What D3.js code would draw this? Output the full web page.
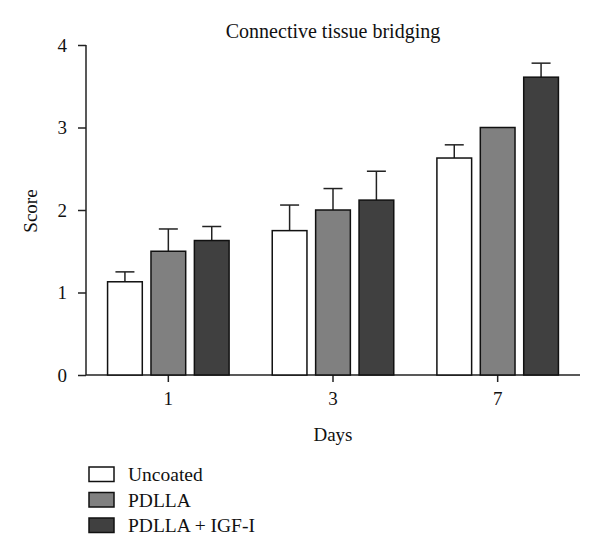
<!DOCTYPE html>
<html>
<head>
<meta charset="utf-8">
<script src="https://cdn.jsdelivr.net/npm/d3@7/dist/d3.min.js"></script>
<style>
  html, body { margin: 0; padding: 0; background: #fff; }
  svg { display: block; }
  text { font-family: "Liberation Serif", "DejaVu Serif", serif; fill: #111; }
</style>
</head>
<body>
<svg id="chart" width="600" height="557"></svg>
<script>
const days = ["1", "3", "7"];
const seriesNames = ["Uncoated", "PDLLA", "PDLLA + IGF-I"];
const uncoated = [1.13, 1.75, 2.63];
const pdlla = [1.50, 2.00, 3.00];
const pdllaIgf = [1.63, 2.12, 3.61];
const uncoatedErr = [0.12, 0.31, 0.16];
const pdllaErr = [0.27, 0.26, 0];
const pdllaIgfErr = [0.17, 0.35, 0.17];
const yTicks = [0, 1, 2, 3, 4];

const values = [uncoated, pdlla, pdllaIgf];
const errs = [uncoatedErr, pdllaErr, pdllaIgfErr];
const colors = ["#ffffff", "#808080", "#404040"];

const svg = d3.select("#chart");
const x0 = d3.scaleBand().domain(days).range([86, 580]).paddingInner(0.262).paddingOuter(0.131);
const x1 = d3.scaleBand().domain(seriesNames).range([0, x0.bandwidth()]).paddingInner(0.2);
const y = d3.scaleLinear().domain([0, 4]).range([375, 45]);

// axes
const yAxis = svg.append("g").attr("transform", "translate(86,0)")
  .call(d3.axisLeft(y).tickValues(yTicks).tickSize(8).tickPadding(11).tickFormat(d3.format("d")));
const xAxis = svg.append("g").attr("transform", "translate(0,375)")
  .call(d3.axisBottom(x0).tickSize(7).tickPadding(10));
[yAxis, xAxis].forEach(a => {
  a.select(".domain").attr("stroke", "#222").attr("stroke-width", 1.5);
  a.selectAll(".tick line").attr("stroke", "#222").attr("stroke-width", 1.5);
  a.selectAll(".tick text").attr("font-size", 19).attr("font-family", "Liberation Serif").attr("fill", "#111");
});
yAxis.select(".domain").attr("d", `M0,${y(4)}H0V${y(0)}`);
xAxis.select(".domain").attr("d", `M86,0H580`);

// bars
const groups = svg.append("g").selectAll("g").data(days).join("g")
  .attr("transform", d => `translate(${x0(d)},0)`);
seriesNames.forEach((s, si) => {
  groups.each(function(d, gi) {
    const g = d3.select(this);
    const v = values[si][gi], e = errs[si][gi];
    const bx = x1(s), bw = x1.bandwidth();
    if (e > 0) {
      const cx = bx + bw / 2;
      g.append("line").attr("x1", cx).attr("x2", cx).attr("y1", y(v)).attr("y2", y(v + e))
        .attr("stroke", "#222").attr("stroke-width", 1.5);
      g.append("line").attr("x1", cx - 9.5).attr("x2", cx + 9.5).attr("y1", y(v + e)).attr("y2", y(v + e))
        .attr("stroke", "#222").attr("stroke-width", 1.5);
    }
    g.append("rect").attr("x", bx).attr("y", y(v)).attr("width", bw).attr("height", y(0) - y(v))
      .attr("fill", colors[si]).attr("stroke", "#111").attr("stroke-width", 1.5);
  });
});

// title and axis labels
svg.append("text").attr("x", 333).attr("y", 38).attr("text-anchor", "middle")
  .attr("font-size", 20).text("Connective tissue bridging");
svg.append("text").attr("transform", "translate(37,211) rotate(-90)").attr("text-anchor", "middle")
  .attr("font-size", 19).text("Score");
svg.append("text").attr("x", 333).attr("y", 441).attr("text-anchor", "middle")
  .attr("font-size", 19).text("Days");

// legend
const leg = svg.append("g").selectAll("g").data(seriesNames).join("g")
  .attr("transform", (d, i) => `translate(89,${467 + i * 25.5})`);
leg.append("rect").attr("width", 25).attr("height", 14.5)
  .attr("fill", (d, i) => colors[i]).attr("stroke", "#111").attr("stroke-width", 1.5);
leg.append("text").attr("x", 39).attr("y", 14).attr("font-size", 19.5).text(d => d);
</script>
</body>
</html>
